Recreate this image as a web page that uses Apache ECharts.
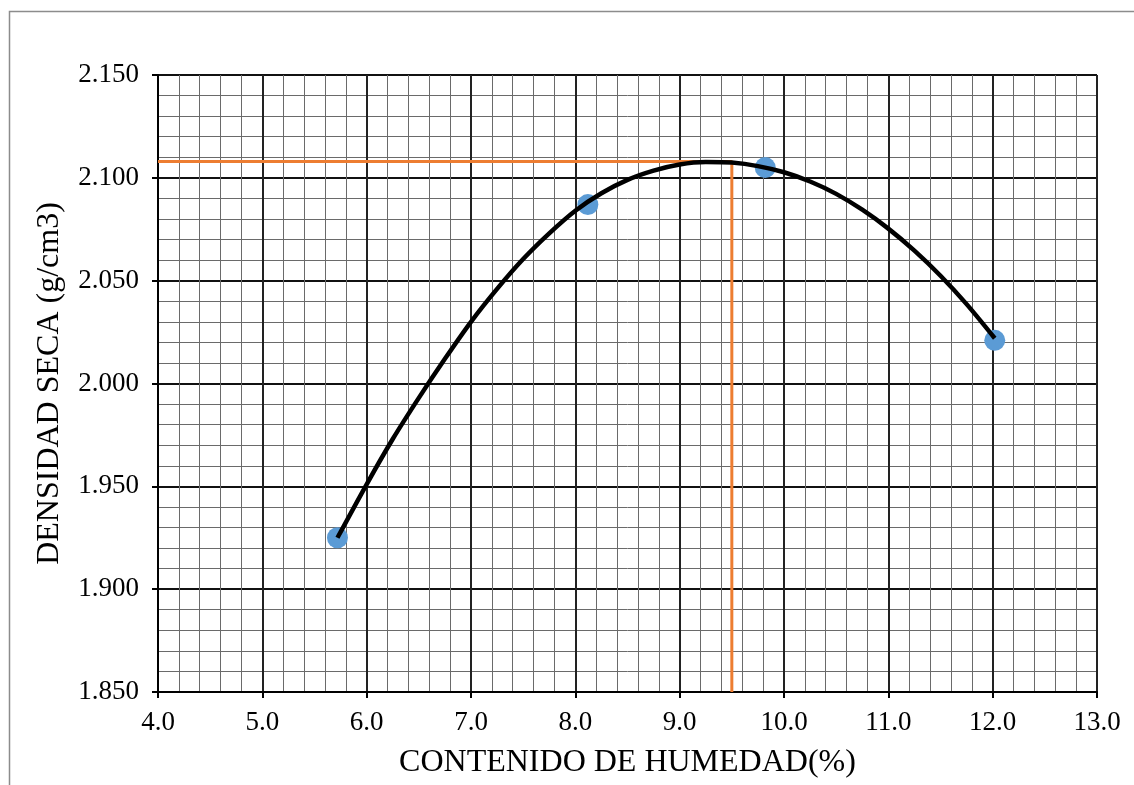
<!DOCTYPE html>
<html>
<head>
<meta charset="utf-8">
<script src="https://cdn.jsdelivr.net/npm/echarts@6/dist/echarts.min.js"></script>
<style>
html,body{margin:0;padding:0;background:#fff;}
#chart{width:1134px;height:785px;}
</style>
</head>
<body>
<div id="chart"></div>
<script>
// Measured points
const pointX = [5.72, 8.12, 9.82, 12.02];
const pointY = [1.925, 2.087, 2.105, 2.021];
// Trend curve
const curveX = [5.72, 6.0, 6.25, 6.5, 6.75, 7.0, 7.25, 7.5, 7.75, 8.0, 8.25, 8.5, 8.75, 9.0, 9.25, 9.5, 9.75, 10.0, 10.25, 10.5, 10.75, 11.0, 11.25, 11.5, 11.75, 12.02];
const curveY = [1.925, 1.951, 1.973, 1.993, 2.012, 2.030, 2.046, 2.0605, 2.073, 2.084, 2.0925, 2.099, 2.1035, 2.1065, 2.1077, 2.1074, 2.1057, 2.1027, 2.0982, 2.0922, 2.0845, 2.0753, 2.0646, 2.0524, 2.0386, 2.022];
// Optimum guide lines
const optX = [4.0, 9.5, 9.5];
const optY = [2.108, 2.108, 1.85];

const xName = 'CONTENIDO DE HUMEDAD(%)';
const yName = 'DENSIDAD SECA (g/cm3)';

const zip = (a, b) => a.map((v, i) => [v, b[i]]);
const font = 'Liberation Serif';

const chart = echarts.init(document.getElementById('chart'));
chart.setOption({
  backgroundColor: '#fff',
  animation: false,
  graphic: [{
    type: 'rect', left: 7, top: 9,
    shape: {width: 1200, height: 900},
    style: {fill: 'none', stroke: '#8c8c8c', lineWidth: 1.5}
  }],
  grid: {left: 158, top: 75, right: 37, bottom: 93},
  xAxis: {
    type: 'value', min: 4, max: 13, interval: 1,
    name: xName, nameLocation: 'middle', nameGap: 55,
    nameTextStyle: {fontFamily: font, fontSize: 32, color: '#000'},
    axisLine: {show: true, onZero: false, lineStyle: {color: '#000', width: 2}},
    axisTick: {show: true, length: 6, lineStyle: {color: '#000', width: 2}},
    axisLabel: {fontFamily: font, fontSize: 27, color: '#000', margin: 17,
      formatter: v => v.toFixed(1)},
    splitLine: {show: true, lineStyle: {color: '#222', width: 2}},
    minorTick: {show: false, splitNumber: 5},
    minorSplitLine: {show: true, lineStyle: {color: '#6a6a6a', width: 1}}
  },
  yAxis: {
    type: 'value', min: 1.85, max: 2.15, interval: 0.05,
    name: yName, nameLocation: 'middle', nameGap: 92, nameRotate: 90,
    nameTextStyle: {fontFamily: font, fontSize: 32, color: '#000'},
    axisLine: {show: true, onZero: false, lineStyle: {color: '#000', width: 2}},
    axisTick: {show: true, length: 6, lineStyle: {color: '#000', width: 2}},
    axisLabel: {fontFamily: font, fontSize: 27, color: '#000', margin: 19,
      formatter: v => v.toFixed(3)},
    splitLine: {show: true, lineStyle: {color: '#111', width: 2}},
    minorTick: {show: false, splitNumber: 5},
    minorSplitLine: {show: true, lineStyle: {color: '#6a6a6a', width: 1}}
  },
  series: [
    {
      type: 'line', data: zip(optX, optY), symbol: 'none', z: 2,
      lineStyle: {color: '#ED7D31', width: 3}
    },
    {
      type: 'scatter', data: zip(pointX, pointY), symbolSize: 21, z: 3,
      itemStyle: {color: '#5B9BD5', opacity: 1}
    },
    {
      type: 'line', data: zip(curveX, curveY), symbol: 'none', smooth: 0.3, z: 4,
      lineStyle: {color: '#000', width: 4.5}
    }
  ]
});
</script>
</body>
</html>
